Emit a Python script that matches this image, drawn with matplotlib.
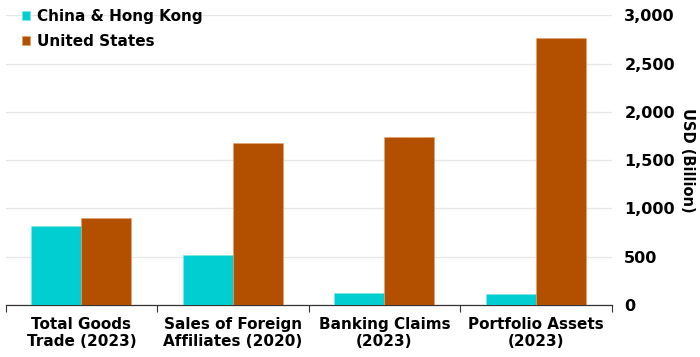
import numpy as np
import matplotlib.pyplot as plt
from matplotlib.ticker import FuncFormatter, FixedLocator

# values (USD billion)
categories = ["Total Goods\nTrade (2023)", "Sales of Foreign\nAffiliates (2020)",
              "Banking Claims\n(2023)", "Portfolio Assets\n(2023)"]
china_hk = [822, 518, 127, 117]
united_states = [905, 1676, 1744, 2770]
series_names = ["China & Hong Kong", "United States"]

cyan = "#00CED1"
brown = "#B35000"

plt.rcParams['font.family'] = ['DejaVu Sans']
plt.rcParams['font.weight'] = 'bold'

fig = plt.figure(figsize=(7, 3.57), dpi=100)
ax = fig.add_axes([0.008, 0.146, 0.866, 0.811])

x = np.arange(len(categories))
w = 0.33
ax.bar(x - w / 2, china_hk, width=w, color=cyan, edgecolor="#7fe6e8", linewidth=0.4,
       label=series_names[0], zorder=3)
ax.bar(x + w / 2, united_states, width=w, color=brown, edgecolor="#e8a070", linewidth=0.4,
       label=series_names[1], zorder=3)

ax.set_xlim(-0.5, len(categories) - 0.5)
ax.set_ylim(0, 3000)

# y axis on the right, no spine
ax.yaxis.tick_right()
ax.yaxis.set_label_position("right")
ax.set_yticks(np.arange(0, 3001, 500))
ax.yaxis.set_major_formatter(FuncFormatter(lambda v, p: f"{int(v):,}"))
ax.tick_params(axis='y', length=0, pad=9, labelsize=11.5)
ax.set_ylabel("USD (Billion)", rotation=270, fontsize=10.5, fontweight='bold',
              va='center', ha='center')
ax.yaxis.set_label_coords(1.125, 0.5)
ax.grid(axis='y', color='#e6e6e6', linewidth=0.9, zorder=0)

# x axis: category labels centred, ticks on group boundaries
ax.set_xticks(x)
ax.set_xticklabels(categories, fontsize=11, fontweight='bold', linespacing=1.1)
ax.tick_params(axis='x', which='major', length=0, pad=9)
ax.xaxis.set_minor_locator(FixedLocator(np.arange(-0.5, len(categories), 1.0)))
ax.tick_params(axis='x', which='minor', length=5, width=0.8, color='#333333')

for s in ['top', 'left', 'right']:
    ax.spines[s].set_visible(False)
ax.spines['bottom'].set_color('#333333')
ax.spines['bottom'].set_linewidth(0.9)

leg = ax.legend(loc='upper left', bbox_to_anchor=(0.012, 1.055), frameon=False,
                prop={'weight': 'bold', 'size': 11}, handlelength=0.55, handleheight=0.55,
                handletextpad=0.4, labelspacing=0.7, borderaxespad=0.2)

fig.savefig("out.png", dpi=100)
